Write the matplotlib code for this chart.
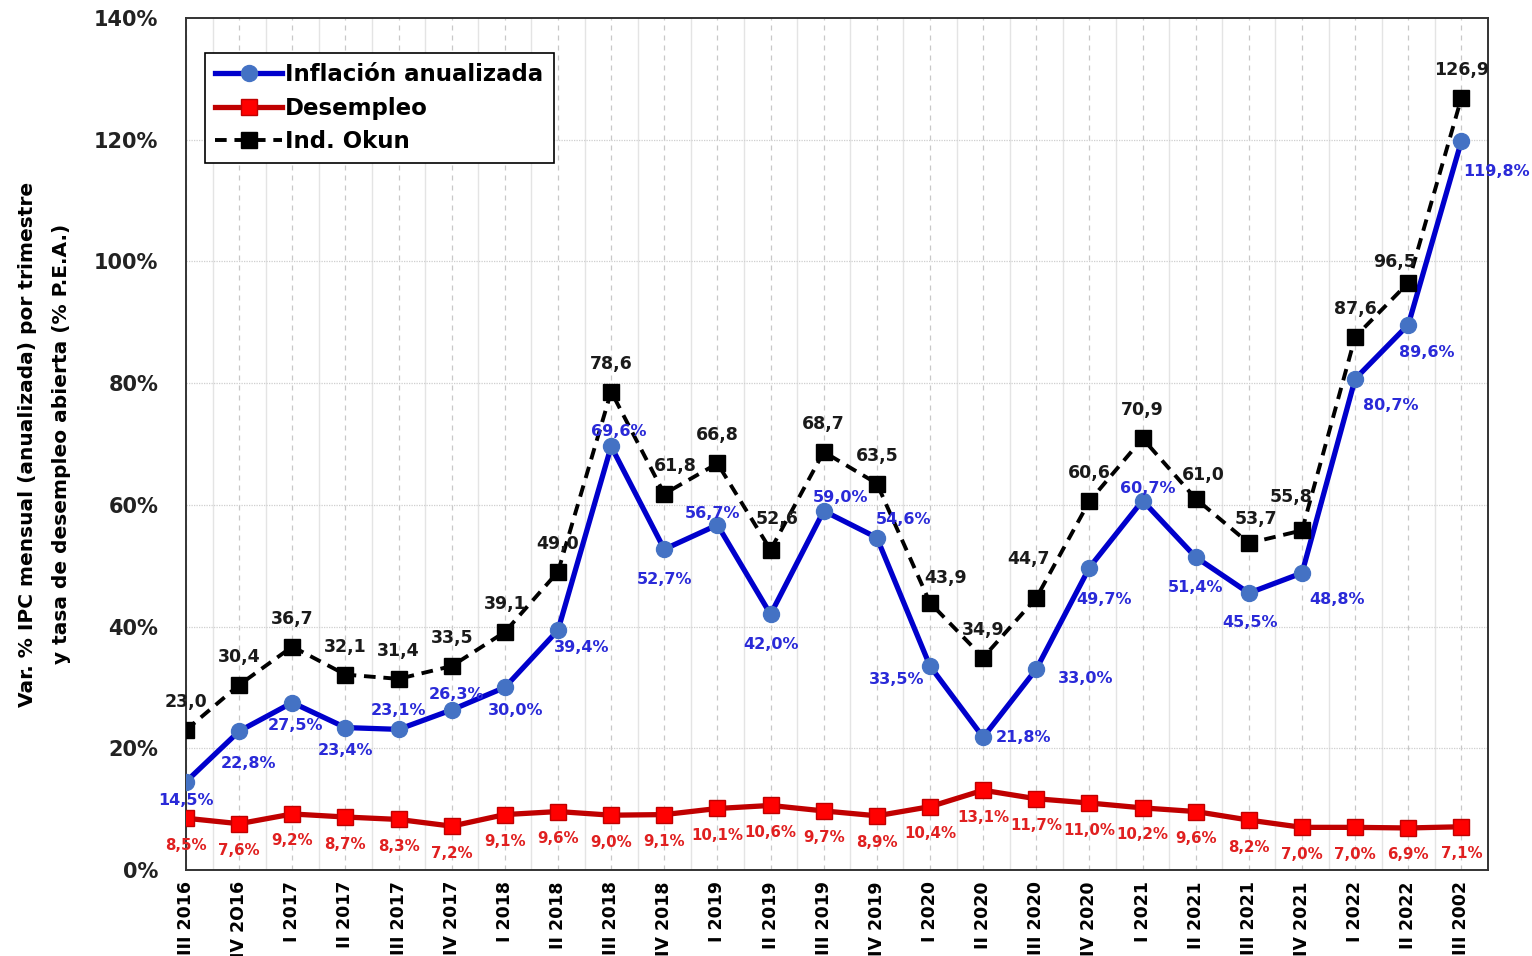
import numpy as np
import matplotlib.pyplot as plt

# Data
quarters = ["III 2016", "IV 2O16", "I 2017", "II 2017", "III 2017", "IV 2017",
            "I 2018", "II 2018", "III 2018", "IV 2018", "I 2019", "II 2019",
            "III 2019", "IV 2019", "I 2020", "II 2020", "III 2020", "IV 2020",
            "I 2021", "II 2021", "III 2021", "IV 2021", "I 2022", "II 2022",
            "III 2002"]
inflacion = [14.5, 22.8, 27.5, 23.4, 23.1, 26.3, 30.0, 39.4, 69.6, 52.7,
             56.7, 42.0, 59.0, 54.6, 33.5, 21.8, 33.0, 49.7, 60.7, 51.4,
             45.5, 48.8, 80.7, 89.6, 119.8]
desempleo = [8.5, 7.6, 9.2, 8.7, 8.3, 7.2, 9.1, 9.6, 9.0, 9.1, 10.1, 10.6,
             9.7, 8.9, 10.4, 13.1, 11.7, 11.0, 10.2, 9.6, 8.2, 7.0, 7.0, 6.9, 7.1]
okun = [23.0, 30.4, 36.7, 32.1, 31.4, 33.5, 39.1, 49.0, 78.6, 61.8, 66.8,
        52.6, 68.7, 63.5, 43.9, 34.9, 44.7, 60.6, 70.9, 61.0, 53.7, 55.8,
        87.6, 96.5, 126.9]

# label offsets in pixels (dx, dy) with dy positive = down
infl_off = [(0, 19), (9, 32), (3, 23), (0, 23), (0, -19), (5, -15), (11, 23),
            (24, 17), (8, -15), (0, 30), (-5, -11), (0, 30), (17, -13),
            (27, -18), (-33, 13), (40, 0), (49, 9), (15, 32), (5, -12),
            (0, 30), (1, 29), (35, 27), (36, 27), (18, 28), (35, 31)]
okun_off = [(0, -28)] * 25
okun_off[9] = (11, -28)
okun_off[11] = (6, -31)
okun_off[14] = (16, -25)
okun_off[16] = (-8, -39)
okun_off[19] = (8, -24)
okun_off[20] = (7, -24)
okun_off[21] = (-11, -33)
okun_off[23] = (-14, -21)


def fmt(v, pct=True):
    s = f"{v:.1f}".replace(".", ",")
    return s + "%" if pct else s


plt.rcParams['font.family'] = 'DejaVu Sans'
fig = plt.figure(figsize=(15.32, 9.56), dpi=100)
ax = fig.add_axes([0.1214, 0.0900, 0.8499, 0.8912])

x = np.arange(len(quarters))

# grid
for xi in x:
    ax.axvline(xi, color='#c8c8c8', lw=0.9, ls=(0, (4, 4)), zorder=0)
for xi in x[:-1] + 0.5:
    ax.axvline(xi, color='#e4e4e4', lw=1.0, zorder=0)
ax.axvline(24.5, color='#e4e4e4', lw=1.0, zorder=0)
for yv in range(20, 140, 20):
    ax.axhline(yv, color='#cfcfcf', lw=0.9, ls=(0, (1, 1)), zorder=0)

ax.plot(x, inflacion, color='#0000CC', lw=3.8, marker='o', ms=11.5,
        mfc='#4472C4', mec='#4472C4', label='Inflación anualizada', zorder=3)
ax.plot(x, desempleo, color='#C00000', lw=3.8, marker='s', ms=11,
        mfc='#FF0000', mec='#C00000', label='Desempleo', zorder=3)
ax.plot(x, okun, color='black', lw=2.8, ls=(0, (3, 2)), marker='s', ms=11.5,
        mfc='black', mec='black', label='Ind. Okun', zorder=4)

for i in x:
    dx, dy = infl_off[i]
    ax.annotate(fmt(inflacion[i]), (i, inflacion[i]), xytext=(dx, -dy),
                textcoords='offset pixels', ha='center', va='center',
                fontsize=11.5, fontweight='bold', color='#2A2AD8', zorder=6)
    dx, dy = okun_off[i]
    ax.annotate(fmt(okun[i], pct=False), (i, okun[i]), xytext=(dx, -dy),
                textcoords='offset pixels', ha='center', va='center',
                fontsize=12.5, fontweight='bold', color='#1a1a1a', zorder=6)
    ax.annotate(fmt(desempleo[i]), (i, desempleo[i]), xytext=(0, -27),
                textcoords='offset pixels', ha='center', va='center',
                fontsize=10.8, fontweight='bold', color='#E02020', zorder=6)

ax.set_xlim(0, 24.5)
ax.set_ylim(0, 140)
ax.set_yticks(range(0, 141, 20))
ax.set_yticklabels([f"{v}%" for v in range(0, 141, 20)], fontsize=15,
                   fontweight='bold', color='#222222')
ax.set_xticks(x)
ax.set_xticklabels(quarters, rotation=90, fontsize=12.5, fontweight='bold',
                   va='top')
ax.tick_params(axis='both', length=0)
ax.tick_params(axis='y', pad=20)
ax.tick_params(axis='x', pad=8)
ax.set_ylabel("Var. % IPC mensual (anualizada) por trimestre\n"
              "y tasa de desempleo abierta (% P.E.A.)",
              fontsize=14.5, fontweight='bold', linespacing=2.0)
ax.yaxis.set_label_coords(-0.088, 0.5)
for sp in ax.spines.values():
    sp.set_color('#333333')
    sp.set_linewidth(1.4)

leg = ax.legend(loc='upper left', bbox_to_anchor=(0.0146, 0.959),
                fancybox=False, edgecolor='black', framealpha=1,
                prop={'weight': 'bold', 'size': 16.5},
                handlelength=2.9, handletextpad=0.15, borderpad=0.45,
                labelspacing=0.45, borderaxespad=0)
leg.get_frame().set_linewidth(1.2)

fig.savefig('out.png', dpi=100)
